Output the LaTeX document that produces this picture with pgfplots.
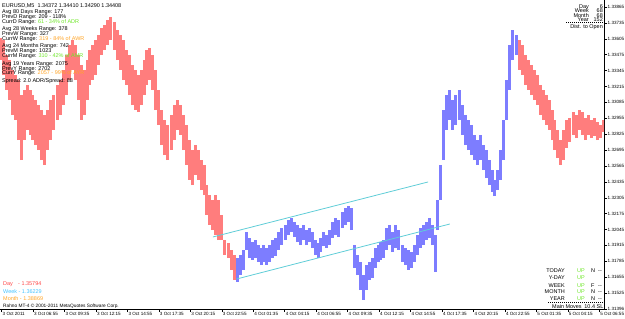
\documentclass[border=0pt]{standalone}
\usepackage{fontspec}
\setmainfont{Liberation Sans}
\usepackage{pgfplots}
\pgfplotsset{compat=1.18}
\usepackage{pgfplotstable}
\definecolor{mtred}{RGB}{255,125,125}
\definecolor{mtblue}{RGB}{125,125,255}
\definecolor{mtcyan}{RGB}{95,205,215}
\definecolor{mtgreen}{RGB}{110,230,40}
\definecolor{mtorange}{RGB}{255,165,40}
\definecolor{mtday}{RGB}{255,70,70}
\definecolor{mtweek}{RGB}{70,195,255}

\pgfplotstableread{
b lo hi
-1 1.33431 1.33611
2 1.33309 1.33595
5 1.33186 1.33472
8 1.33104 1.33431
11 1.32982 1.33350
14 1.32941 1.33309
17 1.32777 1.33268
20 1.32613 1.33145
23 1.32777 1.33186
26 1.32859 1.33227
29 1.32818 1.33186
32 1.32777 1.33145
35 1.32736 1.33104
38 1.32695 1.33063
41 1.32613 1.33022
44 1.32573 1.32982
47 1.32695 1.33022
50 1.32777 1.33104
53 1.32859 1.33145
57 1.32941 1.33227
60 1.32982 1.33268
63 1.33063 1.33350
66 1.33145 1.33472
69 1.33268 1.33554
72 1.33350 1.33595
75 1.33268 1.33554
78 1.33104 1.33472
81 1.32941 1.33390
84 1.32982 1.33350
87 1.33104 1.33431
90 1.33227 1.33513
93 1.33268 1.33554
96 1.33309 1.33595
99 1.33390 1.33636
102 1.33472 1.33693
105 1.33513 1.33717
108 1.33554 1.33758
111 1.33595 1.33783
115 1.33513 1.33742
118 1.33431 1.33677
121 1.33350 1.33636
124 1.33268 1.33595
127 1.33227 1.33513
130 1.33145 1.33472
133 1.33063 1.33390
136 1.33022 1.33350
139 1.33006 1.33309
142 1.33063 1.33350
145 1.33145 1.33431
148 1.33227 1.33513
151 1.33268 1.33529
154 1.33186 1.33472
157 1.33022 1.33350
160 1.32900 1.33186
163 1.32736 1.33022
166 1.32654 1.32941
169 1.32613 1.32900
173 1.32695 1.32982
176 1.32777 1.33063
179 1.32859 1.33104
182 1.32818 1.33063
185 1.32695 1.32982
188 1.32573 1.32900
191 1.32450 1.32777
194 1.32409 1.32695
197 1.32491 1.32736
200 1.32450 1.32695
203 1.32368 1.32613
206 1.32327 1.32573
209 1.32164 1.32409
212 1.32082 1.32327
215 1.32041 1.32286
218 1.32000 1.32327
221 1.31959 1.32286
224 1.31959 1.32164
227 1.31837 1.31959
231 1.31812 1.31935
234 1.31714 1.31878
237 1.31632 1.31837
}\redA

\pgfplotstableread{
b lo hi
240 1.31616 1.31812
243 1.31673 1.31837
246 1.31714 1.31878
249 1.31878 1.32025
252 1.31812 1.31976
255 1.31796 1.31943
258 1.31812 1.31959
261 1.31780 1.31918
264 1.31755 1.31894
267 1.31780 1.31918
270 1.31755 1.31894
273 1.31780 1.31918
276 1.31812 1.31959
279 1.31829 1.31976
282 1.31878 1.32025
285 1.31918 1.32058
289 1.31959 1.32082
292 1.32000 1.32123
295 1.32025 1.32139
298 1.31984 1.32107
301 1.31943 1.32082
304 1.31918 1.32058
307 1.31959 1.32082
310 1.31918 1.32041
313 1.31943 1.32058
316 1.31894 1.32025
319 1.31837 1.31959
322 1.31812 1.31935
325 1.31861 1.31976
328 1.31910 1.32025
331 1.31894 1.32000
334 1.31918 1.32041
337 1.31976 1.32107
340 1.32000 1.32139
343 1.31984 1.32123
347 1.32058 1.32188
350 1.32082 1.32221
353 1.32107 1.32237
356 1.32041 1.32221
359 1.31731 1.31918
362 1.31673 1.31837
365 1.31550 1.31780
368 1.31469 1.31673
371 1.31550 1.31755
374 1.31632 1.31780
377 1.31649 1.31812
380 1.31731 1.31894
383 1.31780 1.31918
386 1.31796 1.31943
389 1.31812 1.31959
392 1.31878 1.32058
395 1.31918 1.32082
398 1.31861 1.32025
401 1.31894 1.32082
404 1.31878 1.32041
408 1.31780 1.31918
411 1.31755 1.31894
414 1.31714 1.31878
417 1.31731 1.31861
420 1.31780 1.31918
423 1.31837 1.32000
426 1.31894 1.32058
429 1.31918 1.32082
432 1.31959 1.32107
435 1.31976 1.32139
438 1.31918 1.32082
441 1.31698 1.32000
444 1.32041 1.32286
447 1.32286 1.32573
450 1.32613 1.33022
453 1.32859 1.33145
456 1.32941 1.33186
459 1.32859 1.33104
462 1.32900 1.33145
466 1.32941 1.33186
469 1.32818 1.33063
472 1.32736 1.32982
475 1.32695 1.32941
478 1.32654 1.32900
481 1.32613 1.32818
484 1.32573 1.32777
487 1.32613 1.32818
490 1.32532 1.32736
493 1.32466 1.32695
496 1.32409 1.32613
499 1.32352 1.32532
502 1.32319 1.32450
505 1.32368 1.32532
508 1.32450 1.32695
511 1.32613 1.32941
514 1.32941 1.33268
517 1.33186 1.33554
520 1.33431 1.33677
524 1.33472 1.33636
}\blueB

\pgfplotstableread{
b lo hi
527 1.33350 1.33595
530 1.33309 1.33554
533 1.33227 1.33472
536 1.33186 1.33431
539 1.33145 1.33390
542 1.33104 1.33350
545 1.33063 1.33309
548 1.32982 1.33227
551 1.32941 1.33186
554 1.32900 1.33145
557 1.32859 1.33104
560 1.32777 1.33022
563 1.32695 1.32941
566 1.32630 1.32859
569 1.32573 1.32777
572 1.32613 1.32859
575 1.32712 1.32941
578 1.32761 1.32957
582 1.32818 1.33006
585 1.32793 1.32982
588 1.32859 1.33022
591 1.32818 1.33006
594 1.32777 1.32957
597 1.32818 1.32982
600 1.32793 1.32941
603 1.32810 1.32957
606 1.32777 1.32925
609 1.32793 1.32900
612 1.32843 1.32941
}\redC

\begin{document}
\begin{tikzpicture}
\begin{axis}[
  at={(0,10bp)}, anchor=south west,
  width=604bp, height=309bp, scale only axis,
  xmin=-1.53, xmax=612.9,
  ymin=1.31395, ymax=1.33922,
  axis x line*=bottom, axis y line*=right,
  axis line style={-, line width=0.5bp, black},
  xtick={0,32,...,608},
  xticklabels={3 Oct 2011,3 Oct 06:55,3 Oct 09:35,3 Oct 12:15,3 Oct 14:55,3 Oct 17:35,3 Oct 20:15,3 Oct 22:55,4 Oct 01:35,4 Oct 04:15,4 Oct 06:55,4 Oct 09:35,4 Oct 12:15,4 Oct 14:55,4 Oct 17:35,4 Oct 20:15,4 Oct 22:55,5 Oct 01:35,5 Oct 04:15,5 Oct 06:55},
  ytick={1.33865,1.33735,1.33605,1.33475,1.33345,1.33215,1.33085,1.32955,1.32825,1.32695,1.32565,1.32435,1.32305,1.32175,1.32045,1.31915,1.31785,1.31655,1.31525,1.31395},
  yticklabels={1.33865,1.33735,1.33605,1.33475,1.33345,1.33215,1.33085,1.32955,1.32825,1.32695,1.32565,1.32435,1.32305,1.32175,1.32045,1.31915,1.31785,1.31655,1.31525,1.31396},
  tick align=outside, major tick length=3bp,
  tick style={line width=0.4bp, black},
  xticklabel style={anchor=north west, inner sep=0pt, xshift=1bp, yshift=-0.5bp, font=\fontsize{4.6}{5}\selectfont},
  yticklabel style={anchor=west, inner sep=0pt, xshift=0.5bp, font=\fontsize{4.6}{5}\selectfont},
]
\addplot[draw=none, mark=none, forget plot,
  error bars/.cd, y dir=plus, y explicit, error mark=none,
  error bar style={draw=mtred, line width=3bp}]
  table[x=b, y=lo, y error expr={\thisrow{hi}-\thisrow{lo}}] {\redA};
\addplot[draw=none, mark=none, forget plot,
  error bars/.cd, y dir=plus, y explicit, error mark=none,
  error bar style={draw=mtblue, line width=3bp}]
  table[x=b, y=lo, y error expr={\thisrow{hi}-\thisrow{lo}}] {\blueB};
\addplot[draw=none, mark=none, forget plot,
  error bars/.cd, y dir=plus, y explicit, error mark=none,
  error bar style={draw=mtred, line width=3bp}]
  table[x=b, y=lo, y error expr={\thisrow{hi}-\thisrow{lo}}] {\redC};
\addplot[mtcyan, line width=0.8bp] coordinates {(215,1.31984) (434,1.32434)};
\addplot[mtcyan, line width=0.8bp] coordinates {(239,1.31640) (456,1.32090)};
\end{axis}

\begin{scope}[every node/.style={inner sep=0pt, font=\fontsize{5.5}{6}\selectfont}]
% top-left block
\node[anchor=mid west] at (2bp,314bp) {EURUSD,M5\ \ 1.34372 1.34410 1.34290 1.34408};
\node[anchor=mid west] at (2bp,308.3bp) {Avg 80 Days Range: 177};
\node[anchor=mid west] at (2bp,303.3bp) {PrevD Range: 209 - 118\%};
\node[anchor=mid west] at (2bp,298.3bp) {CurrD Range: \textcolor{mtgreen}{61 - 34\% of ADR}};
\node[anchor=mid west] at (2bp,290.7bp) {Avg 28 Weeks Range: 378};
\node[anchor=mid west] at (2bp,285.7bp) {PrevW Range: 327};
\node[anchor=mid west] at (2bp,280.7bp) {CurrW Range: \textcolor{mtorange}{319 - 84\% of AWR}};
\node[anchor=mid west] at (2bp,274bp) {Avg 24 Months Range: 742};
\node[anchor=mid west] at (2bp,269bp) {PrevM Range: 1023};
\node[anchor=mid west] at (2bp,264bp) {CurrM Range: \textcolor{mtgreen}{310 - 42\% of AMR}};
\node[anchor=mid west] at (2bp,256.3bp) {Avg 19 Years Range: 2075};
\node[anchor=mid west] at (2bp,251.3bp) {PrevY Range: 2702};
\node[anchor=mid west] at (2bp,246.7bp) {CurrY Range: \textcolor{mtorange}{2057 - 99\% of AYR}};
\node[anchor=mid west] at (2bp,239bp) {Spread: 2.0 ADR/Spread: 88};
% top-right block
\node[anchor=mid east] at (589bp,313.5bp) {Day};
\node[anchor=mid east] at (603bp,313.5bp) {6};
\node[anchor=mid east] at (589bp,309bp) {Week};
\node[anchor=mid east] at (603bp,309bp) {68};
\node[anchor=mid east] at (589bp,304.5bp) {Month};
\node[anchor=mid east] at (603bp,304.5bp) {68};
\node[anchor=mid east] at (589bp,300bp) {Year};
\node[anchor=mid east] at (603bp,300bp) {152};
\draw[line width=0.4bp, dash pattern=on 1bp off 1bp] (566bp,297bp) -- (604bp,297bp);
\node[anchor=mid east] at (603bp,293bp) {Dist. to Open};
% bottom-right block
\node[anchor=mid east] at (565bp,49bp) {TODAY};
\node[anchor=mid west, text=mtgreen] at (577bp,49bp) {UP};
\node[anchor=mid west] at (591bp,49bp) {N};
\node[anchor=mid west] at (598bp,49bp) {-{}-};
\node[anchor=mid east] at (565bp,42bp) {Y-DAY};
\node[anchor=mid west, text=mtgreen] at (577bp,42bp) {UP};
\node[anchor=mid east] at (565bp,34.5bp) {WEEK};
\node[anchor=mid west, text=mtgreen] at (577bp,34.5bp) {UP};
\node[anchor=mid west] at (591bp,34.5bp) {F};
\node[anchor=mid west] at (598bp,34.5bp) {-{}-};
\node[anchor=mid east] at (565bp,28bp) {MONTH};
\node[anchor=mid west, text=mtgreen] at (577bp,28bp) {UP};
\node[anchor=mid west] at (591bp,28bp) {N};
\node[anchor=mid west] at (598bp,28bp) {-{}-};
\node[anchor=mid east] at (565bp,21bp) {YEAR};
\node[anchor=mid west, text=mtgreen] at (577bp,21bp) {UP};
\node[anchor=mid west] at (591bp,21bp) {N};
\node[anchor=mid west] at (598bp,21bp) {-{}-};
\draw[line width=0.4bp, dash pattern=on 1bp off 1bp] (548bp,17bp) -- (604bp,17bp);
\node[anchor=mid west] at (552bp,13bp) {Main Moves};
\node[anchor=mid east] at (603.5bp,13bp) {10.4 SL};
% bottom-left block
\node[anchor=mid west, text=mtday] at (3bp,36bp) {Day};
\node[anchor=mid west, text=mtday] at (18bp,36bp) {- 1.35794};
\node[anchor=mid west, text=mtweek] at (3bp,28bp) {Week - 1.36229};
\node[anchor=mid west, text=mtorange] at (3bp,21bp) {Month - 1.38869};
\node[anchor=mid west, font=\fontsize{4.8}{5}\selectfont] at (3bp,14bp) {Rahno MT-4 \textcopyright{} 2001-2011 MetaQuotes Software Corp.};
\end{scope}
\pgfresetboundingbox
\useasboundingbox (0,0) rectangle (625bp,319bp);
\end{tikzpicture}
\end{document}
